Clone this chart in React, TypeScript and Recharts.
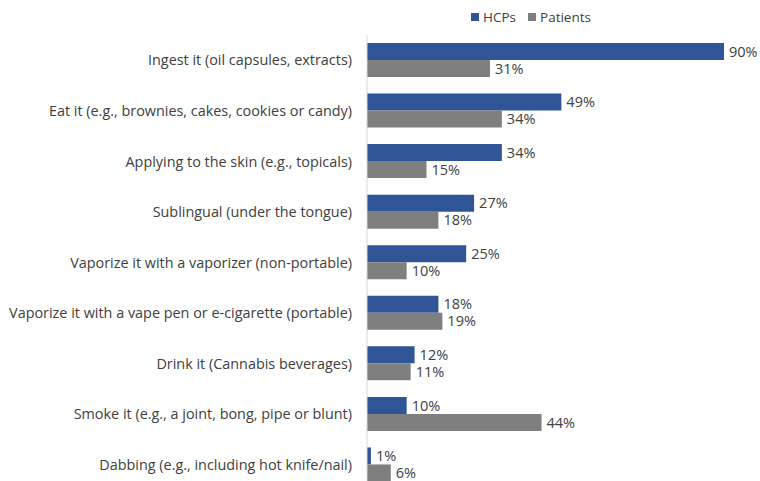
import { Bar, BarChart, LabelList, XAxis, YAxis } from "recharts";

const categories = [
  "Ingest it (oil capsules, extracts)",
  "Eat it (e.g., brownies, cakes, cookies or candy)",
  "Applying to the skin (e.g., topicals)",
  "Sublingual (under the tongue)",
  "Vaporize it with a vaporizer (non-portable)",
  "Vaporize it with a vape pen or e-cigarette (portable)",
  "Drink it (Cannabis beverages)",
  "Smoke it (e.g., a joint, bong, pipe or blunt)",
  "Dabbing (e.g., including hot knife/nail)",
];
const hcps = [90, 49, 34, 27, 25, 18, 12, 10, 1];
const patients = [31, 34, 15, 18, 10, 19, 11, 44, 6];

const data = categories.map((name, i) => ({
  name,
  hcps: hcps[i],
  patients: patients[i],
}));

const BLUE = "#2f5597";
const GRAY = "#7f7f7f";
const TEXT = "#404040";
const FONT = "'Open Sans', 'Liberation Sans', Arial, sans-serif";

function LegendBox() {
  const item = (color: string, label: string) => (
    <span style={{ display: "inline-flex", alignItems: "center", marginRight: 12 }}>
      <span style={{ width: 8, height: 8, background: color, display: "inline-block", marginRight: 4 }} />
      {label}
    </span>
  );
  return (
    <div
      style={{
        position: "absolute",
        left: 471,
        top: 6,
        fontSize: 13.5,
        lineHeight: "20px",
        color: TEXT,
        fontFamily: FONT,
        whiteSpace: "nowrap",
      }}
    >
      {item(BLUE, "HCPs")}
      {item(GRAY, "Patients")}
    </div>
  );
}

export default function App() {
  return (
    <div
      style={{
        position: "absolute",
        left: 0,
        top: 0,
        width: 760,
        height: 481,
        overflow: "hidden",
        background: "#fff",
        fontFamily: FONT,
      }}
    >
      <LegendBox />
      <BarChart
        width={760}
        height={500}
        data={data}
        layout="vertical"
        barGap={0}
        margin={{ top: 35, right: 36, left: 0, bottom: 10 }}
      >
        <XAxis type="number" domain={[0, 90]} hide />
        <YAxis
          type="category"
          dataKey="name"
          width={367}
          tickLine={false}
          tickSize={0}
          tickMargin={15}
          axisLine={{ stroke: "#d9d9d9" }}
          tick={{ fontSize: 14.4, fill: TEXT, fontFamily: FONT }}
          interval={0}
        />
        <Bar dataKey="hcps" fill={BLUE} barSize={17} isAnimationActive={false}>
          <LabelList
            dataKey="hcps"
            position="right"
            offset={5}
            formatter={(v: any) => `${v}%`}
            style={{ fontSize: 14.5, fill: TEXT, fontFamily: FONT }}
          />
        </Bar>
        <Bar dataKey="patients" fill={GRAY} barSize={17} isAnimationActive={false}>
          <LabelList
            dataKey="patients"
            position="right"
            offset={5}
            formatter={(v: any) => `${v}%`}
            style={{ fontSize: 14.5, fill: TEXT, fontFamily: FONT }}
          />
        </Bar>
      </BarChart>
    </div>
  );
}
